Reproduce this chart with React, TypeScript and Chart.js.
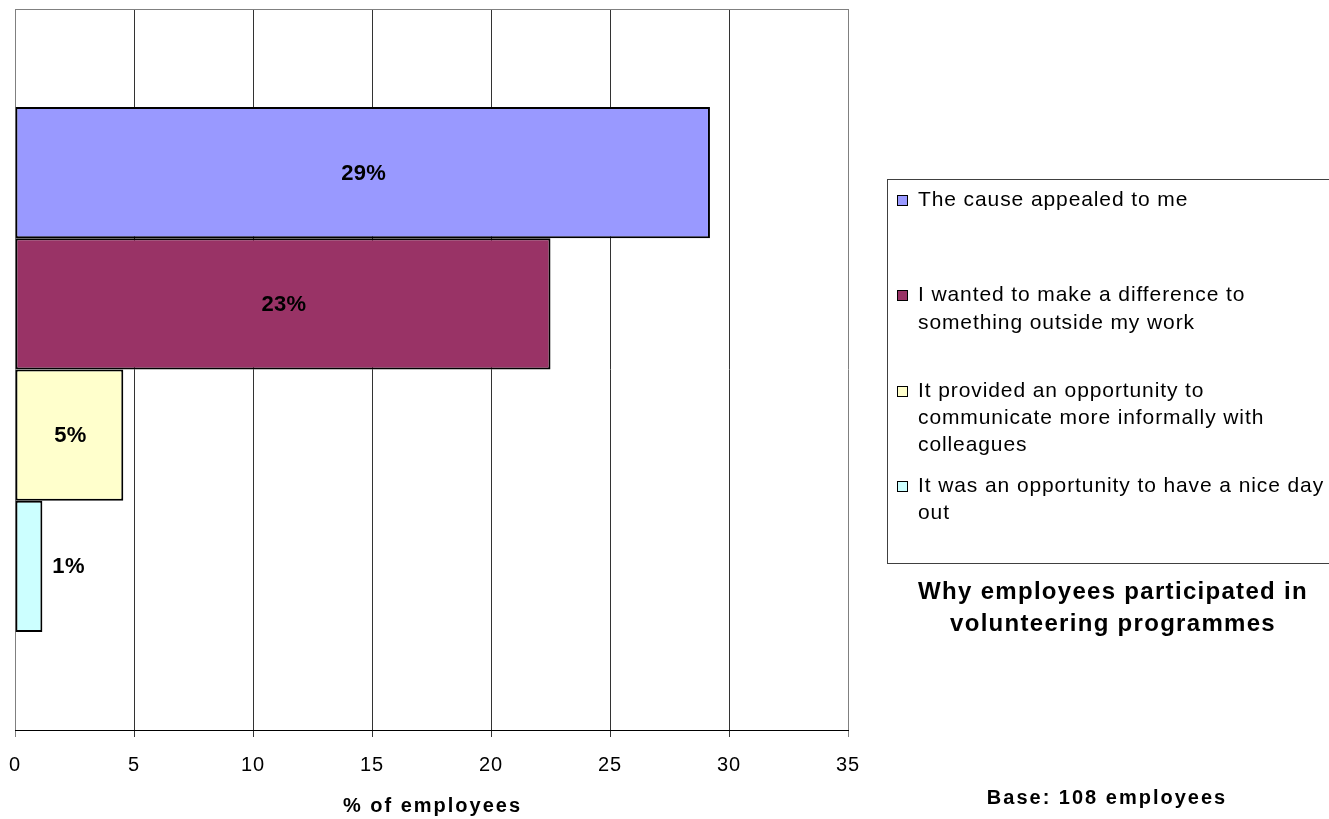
import React, { useEffect, useRef } from "react";
import { Chart, registerables } from "chart.js";

Chart.register(...registerables);

const categories = [""];
const seriesNames = [
  "The cause appealed to me",
  "I wanted to make a difference to something outside my work",
  "It provided an opportunity to communicate more informally with colleagues",
  "It was an opportunity to have a nice day out",
];
const legendLines = [
  ["The cause appealed to me"],
  ["I wanted to make a difference to", "something outside my work"],
  ["It provided an opportunity to", "communicate more informally with", "colleagues"],
  ["It was an opportunity to have a nice day", "out"],
];
const seriesValues = [29.2, 22.5, 4.55, 1.15];
const seriesColors = ["#9999FF", "#993366", "#FFFFCC", "#CCFFFF"];
const xMin = 0;
const xMax = 35;
const xStep = 5;
const titleLines = ["Why employees participated in", "volunteering programmes"];
const axisTitle = "% of employees";
const baseNote = "Base: 108 employees";

const FONT = "'Liberation Sans', Arial, Helvetica, sans-serif";

function setSpacing(ctx: any, px: number) {
  try {
    ctx.letterSpacing = px + "px";
  } catch (e) {}
}

const framePlugin = {
  id: "frame",
  beforeDraw(chart: any) {
    setSpacing(chart.ctx, 1);
  },
  beforeDatasetsDraw(chart: any) {
    const { ctx, chartArea } = chart;
    ctx.save();
    ctx.strokeStyle = "#808080";
    ctx.lineWidth = 1;
    const y = Math.round(chartArea.top) + 0.5;
    ctx.beginPath();
    ctx.moveTo(chartArea.left, y);
    ctx.lineTo(chartArea.right + 1, y);
    ctx.stroke();
    ctx.restore();
  },
};

const labelsPlugin = {
  id: "extraText",
  afterDraw(chart: any) {
    const { ctx, chartArea } = chart;
    ctx.save();
    // Data labels
    ctx.fillStyle = "#000";
    ctx.font = `bold 22px ${FONT}`;
    setSpacing(ctx, 0.3);
    ctx.textBaseline = "alphabetic";
    chart.data.datasets.forEach((ds: any, i: number) => {
      const meta = chart.getDatasetMeta(i);
      const el: any = meta.data[0];
      if (!el) return;
      const p = el.getProps(["x", "y", "base", "height"], true);
      const txt = Math.round(ds.data[0]) + "%";
      const w = ctx.measureText(txt).width;
      const barW = p.x - p.base;
      const by = p.y + 7;
      if (barW > w + 12) {
        ctx.textAlign = "center";
        ctx.fillText(txt, (p.x + p.base) / 2 + 1, by);
      } else {
        ctx.textAlign = "left";
        ctx.fillText(txt, p.x + 10, by);
      }
    });

    // Axis title
    ctx.font = `bold 20px ${FONT}`;
    setSpacing(ctx, 2);
    ctx.textAlign = "center";
    ctx.fillText(axisTitle, (chartArea.left + chartArea.right) / 2 + 1, 812);

    // Legend box
    const boxL = 887.5;
    const boxT = 179.5;
    const boxB = 563.5;
    ctx.strokeStyle = "#404040";
    ctx.lineWidth = 1;
    ctx.strokeRect(boxL, boxT, 1329 - boxL + 5, boxB - boxT);

    ctx.font = `21px ${FONT}`;
    setSpacing(ctx, 0.9);
    ctx.textAlign = "left";
    const firstBase = 206;
    const slot = 95.3;
    const lineStep = 27.3;
    chart.data.datasets.forEach((ds: any, i: number) => {
      const baseY = firstBase + i * slot;
      const sq = Math.round(baseY - 11);
      ctx.fillStyle = ds.backgroundColor;
      ctx.fillRect(897, sq, 11, 11);
      ctx.strokeStyle = "#000";
      ctx.strokeRect(897.5, sq + 0.5, 10, 10);
      ctx.fillStyle = "#000";
      legendLines[i].forEach((line, j) => {
        ctx.fillText(line, 918, baseY + j * lineStep);
      });
    });

    // Title
    ctx.font = `bold 24px ${FONT}`;
    setSpacing(ctx, 1.3);
    ctx.textAlign = "center";
    titleLines.forEach((line, j) => {
      ctx.fillText(line, 1113, 599 + j * 32);
    });

    // Base note
    ctx.font = `bold 20px ${FONT}`;
    setSpacing(ctx, 2);
    ctx.fillText(baseNote, 1107, 804);
    ctx.restore();
  },
};

export default function App() {
  const ref = useRef<HTMLCanvasElement | null>(null);

  useEffect(() => {
    if (!ref.current) return;
    const chart = new Chart(ref.current, {
      type: "bar",
      data: {
        labels: categories,
        datasets: seriesNames.map((name, i) => ({
          label: name,
          data: [seriesValues[i]],
          backgroundColor: seriesColors[i],
          borderColor: "#000",
          borderWidth: 2,
          borderSkipped: false,
          categoryPercentage: 0.728,
          barPercentage: 1,
        })),
      },
      options: {
        indexAxis: "y",
        responsive: false,
        animation: false,
        devicePixelRatio: 1,
        layout: { padding: { left: 15, right: 481, top: 9, bottom: 26 } },
        plugins: {
          legend: { display: false },
          tooltip: { enabled: false },
          title: { display: false },
        },
        scales: {
          x: {
            type: "linear",
            min: xMin,
            max: xMax,
            afterFit: (scale: any) => {
              scale.paddingLeft = 0;
              scale.paddingRight = 0;
            },
            ticks: {
              stepSize: xStep,
              color: "#000",
              padding: 16,
              font: { family: FONT, size: 20 },
            },
            grid: {
              color: (c: any) =>
                c.tick && (c.tick.value === xMin || c.tick.value === xMax) ? "#808080" : "#333333",
              lineWidth: 1,
              tickLength: 7,
              drawTicks: true,
            },
            border: { display: true, color: "#000", width: 1 },
          },
          y: {
            display: false,
          },
        },
      } as any,
      plugins: [framePlugin, labelsPlugin],
    });
    return () => chart.destroy();
  }, []);

  return (
    <div
      style={{
        position: "fixed",
        left: 0,
        top: 0,
        width: 1329,
        height: 819,
        background: "#fff",
      }}
    >
      <canvas ref={ref} width={1329} height={819} style={{ display: "block" }} />
    </div>
  );
}
